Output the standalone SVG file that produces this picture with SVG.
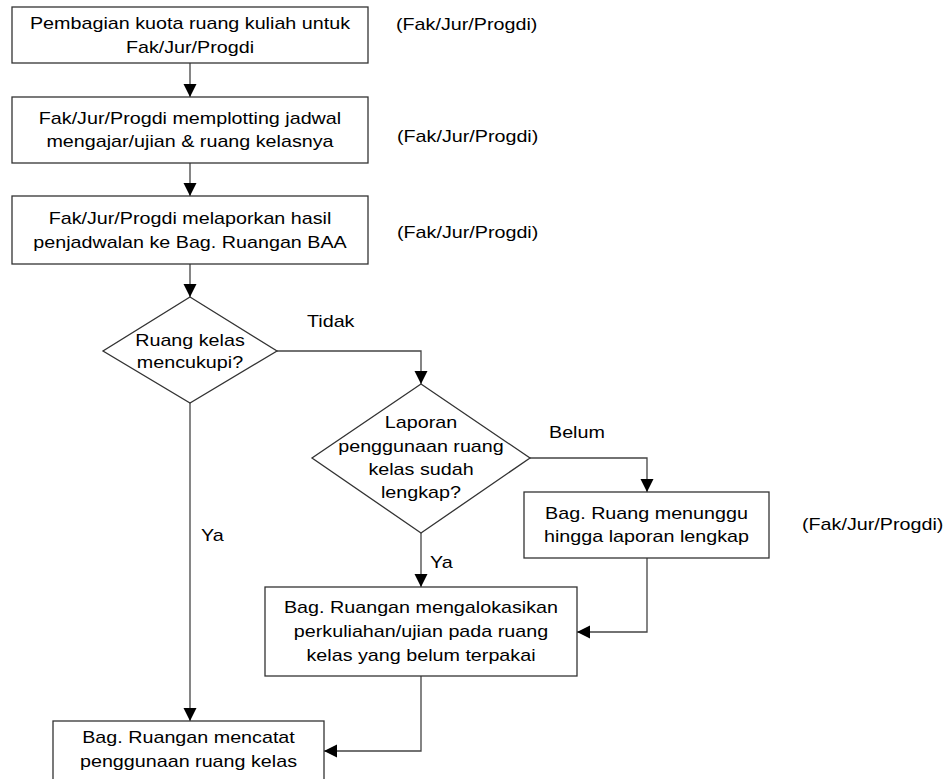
<svg xmlns="http://www.w3.org/2000/svg" width="947" height="779" viewBox="0 0 947 779">
<style>
.box{fill:#fff;stroke:#333;stroke-width:1.3}
.ln{fill:none;stroke:#444;stroke-width:1.3}
text{font-family:"Liberation Sans",Arial,sans-serif;font-size:17px;fill:#000}
.c{text-anchor:middle}
</style>
<defs>
<marker id="ah" markerUnits="userSpaceOnUse" markerWidth="14" markerHeight="14" refX="13" refY="6.5" orient="auto">
<path d="M0,0 L13,6.5 L0,13 Z" fill="#000"/>
</marker>
</defs>
<rect width="947" height="779" fill="#fff"/>
<g id="connectors">
<path class="ln" d="M190,63 V97" marker-end="url(#ah)"/>
<path class="ln" d="M190,163 V196" marker-end="url(#ah)"/>
<path class="ln" d="M190,264 V297" marker-end="url(#ah)"/>
<path class="ln" d="M277,351 H421 V384" marker-end="url(#ah)"/>
<path class="ln" d="M530,458 H647 V492" marker-end="url(#ah)"/>
<path class="ln" d="M421,533 V587" marker-end="url(#ah)"/>
<path class="ln" d="M647,558 V632 H577" marker-end="url(#ah)"/>
<path class="ln" d="M421,676 V751 H324" marker-end="url(#ah)"/>
<path class="ln" d="M190,403 V721" marker-end="url(#ah)"/>
<text x="307" y="327" transform="matrix(1.16 0 0 1 -49.12 0)">Tidak</text>
<text x="549" y="438" transform="matrix(1.16 0 0 1 -87.84 0)">Belum</text>
<text x="201" y="541" transform="matrix(1.16 0 0 1 -32.16 0)">Ya</text>
<text x="430" y="568" transform="matrix(1.16 0 0 1 -68.8 0)">Ya</text>
</g>
<g id="n1">
<rect class="box" x="12" y="7" width="356" height="56"/>
<g transform="matrix(1.16 0 0 1 -30.4 0)">
<text class="c" x="190" y="29">Pembagian kuota ruang kuliah untuk</text>
<text class="c" x="190" y="53">Fak/Jur/Progdi</text>
</g>
</g>
<g id="n2">
<rect class="box" x="12" y="97" width="356" height="66"/>
<g transform="matrix(1.16 0 0 1 -30.4 0)">
<text class="c" x="190" y="124">Fak/Jur/Progdi memplotting jadwal</text>
<text class="c" x="190" y="147">mengajar/ujian &amp; ruang kelasnya</text>
</g>
</g>
<g id="n3">
<rect class="box" x="12" y="196" width="356" height="68"/>
<g transform="matrix(1.16 0 0 1 -30.4 0)">
<text class="c" x="190" y="224">Fak/Jur/Progdi melaporkan hasil</text>
<text class="c" x="190" y="248">penjadwalan ke Bag. Ruangan BAA</text>
</g>
</g>
<g id="d1">
<polygon class="box" points="190,297 277,351 190,403 103,351"/>
<g transform="matrix(1.16 0 0 1 -30.4 0)">
<text class="c" x="190" y="346">Ruang kelas</text>
<text class="c" x="190" y="368.5">mencukupi?</text>
</g>
</g>
<g id="d2">
<polygon class="box" points="421,384 530,458 421,533 312,458"/>
<g transform="matrix(1.16 0 0 1 -67.36 0)">
<text class="c" x="421" y="428">Laporan</text>
<text class="c" x="421" y="452">penggunaan ruang</text>
<text class="c" x="421" y="475">kelas sudah</text>
<text class="c" x="421" y="498">lengkap?</text>
</g>
</g>
<g id="n4">
<rect class="box" x="524" y="492" width="245" height="66"/>
<g transform="matrix(1.16 0 0 1 -103.44 0)">
<text class="c" x="646.5" y="519">Bag. Ruang menunggu</text>
<text class="c" x="646.5" y="542">hingga laporan lengkap</text>
</g>
</g>
<g id="n5">
<rect class="box" x="265" y="587" width="312" height="89"/>
<g transform="matrix(1.16 0 0 1 -67.36 0)">
<text class="c" x="421" y="613">Bag. Ruangan mengalokasikan</text>
<text class="c" x="421" y="637">perkuliahan/ujian pada ruang</text>
<text class="c" x="421" y="661">kelas yang belum terpakai</text>
</g>
</g>
<g id="n6">
<rect class="box" x="53" y="721" width="271" height="70"/>
<g transform="matrix(1.16 0 0 1 -30.16 0)">
<text class="c" x="188.5" y="743">Bag. Ruangan mencatat</text>
<text class="c" x="188.5" y="767">penggunaan ruang kelas</text>
</g>
</g>
<g id="labels">
<text x="396" y="30" transform="matrix(1.16 0 0 1 -63.36 0)">(Fak/Jur/Progdi)</text>
<text x="397" y="142" transform="matrix(1.16 0 0 1 -63.52 0)">(Fak/Jur/Progdi)</text>
<text x="397" y="238" transform="matrix(1.16 0 0 1 -63.52 0)">(Fak/Jur/Progdi)</text>
<text x="802" y="530" transform="matrix(1.16 0 0 1 -128.32 0)">(Fak/Jur/Progdi)</text>
</g>
</svg>
